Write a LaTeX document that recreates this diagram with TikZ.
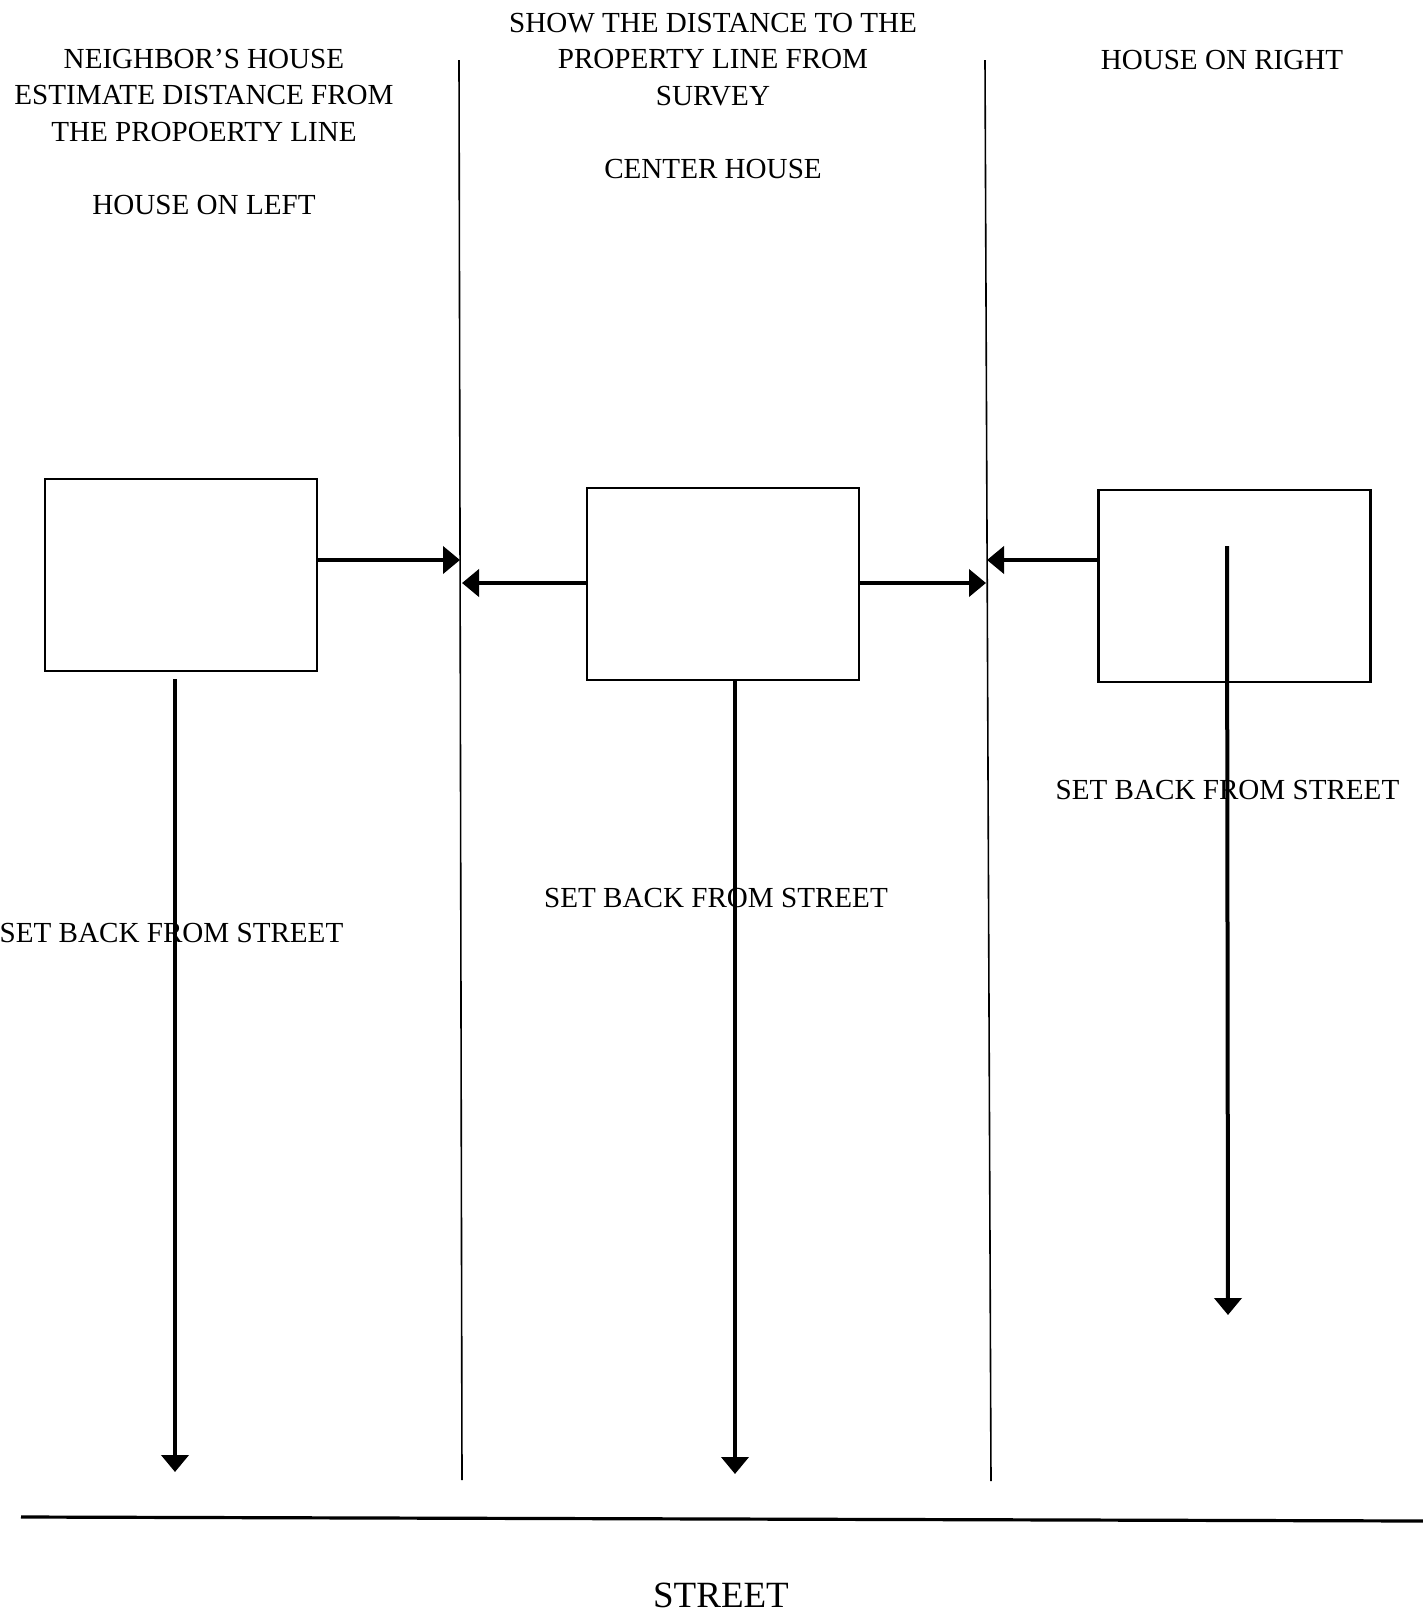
\documentclass[tikz,border=0pt]{standalone}
\usepackage{fontspec}
\setmainfont{Liberation Serif}
\usetikzlibrary{arrows.meta}
\begin{document}
\begin{tikzpicture}[x=0.5pt,y=-0.5pt,
  house/.style={draw, line width=1.3pt, minimum width=136pt, minimum height=96pt, inner sep=0pt},
  propline/.style={line width=0.8pt},
  arr/.style={line width=2pt, -{Triangle[length=8.5pt,width=13.5pt]}},
  lbl/.style={font=\fontsize{14.55}{18.25}\selectfont, align=center, inner sep=0pt, anchor=base},
  streetline/.style={line width=1.6pt}]
\useasboundingbox (0,0) rectangle (1423,1613);
% property lines
\coordinate (p1top) at (459,60);
\coordinate (p1bot) at (462,1480);
\coordinate (p2top) at (985,60);
\coordinate (p2bot) at (991,1481);
\draw[propline] (p1top) -- (p1bot);
\draw[propline] (p2top) -- (p2bot);
% houses
\node[house] (lbox) at (181,575) {};
\node[house] (cbox) at (723,584) {};
\node[house] (rbox) at (1234.5,586) {};
% arrow tips on property lines
\coordinate (t1) at (460,560);
\coordinate (t2) at (462,583);
\coordinate (t3) at (986,583);
\coordinate (t4) at (987,560);
\draw[arr] (lbox.east |- t1) -- (t1);
\draw[arr] (cbox.west |- t2) -- (t2);
\draw[arr] (cbox.east |- t3) -- (t3);
\draw[arr] (rbox.west |- t4) -- (t4);
% setbacks
\coordinate (le) at (175,1472);
\coordinate (ce) at (735,1474);
\coordinate (rs) at (1227,546);
\coordinate (re) at (1228,1315);
\draw[arr] ([yshift=-3.5pt]lbox.south -| le) -- (le);
\draw[arr] (cbox.south -| ce) -- (ce);
\draw[arr] (rs) -- (re);
% street
\coordinate (s1) at (21,1517);
\coordinate (s2) at (1423,1521);
\draw[streetline] (s1) -- (s2);
% texts (base anchor = baseline of last line)
\node[lbl] (tl) at (204,214) {NEIGHBOR'S HOUSE\\ESTIMATE DISTANCE FROM\\THE PROPOERTY LINE\\[18.25pt]HOUSE ON LEFT};
\node[lbl] (tc) at (713,178) {SHOW THE DISTANCE TO THE\\PROPERTY LINE FROM\\SURVEY\\[18.25pt]CENTER HOUSE};
\node[lbl] (tr) at (1222,69) {HOUSE ON RIGHT};
\node[lbl] (sl) at (171.5,942) {SET BACK FROM STREET};
\node[lbl] (sc) at (716,907) {SET BACK FROM STREET};
\node[lbl] (sr) at (1227.5,799) {SET BACK FROM STREET};
\node[lbl, font=\fontsize{18.5}{22}\selectfont] (st) at (721,1607) {STREET};
\end{tikzpicture}
\end{document}
